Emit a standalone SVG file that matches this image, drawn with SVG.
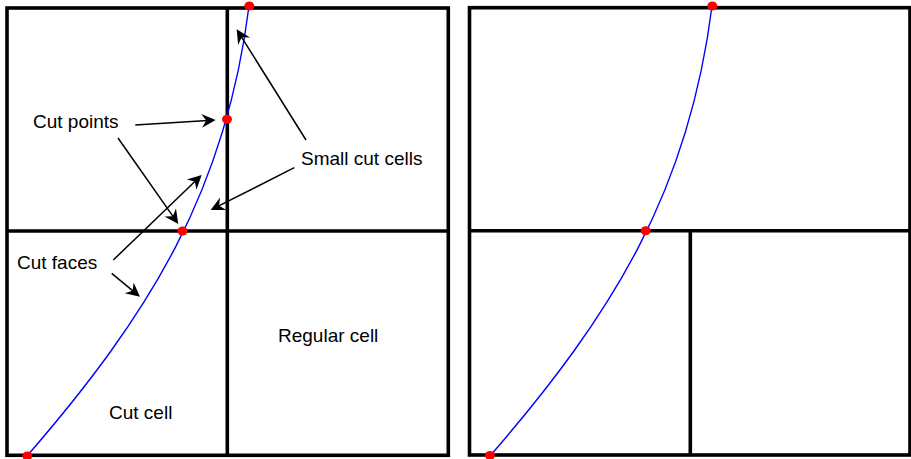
<svg xmlns="http://www.w3.org/2000/svg" width="911" height="459" viewBox="0 0 911 459">
<style>
.grid{fill:none;stroke:#000;stroke-width:3.6}
.curve{fill:none;stroke:#0000ff;stroke-width:1.4}
.dot{fill:#ff0000}
.arrow{fill:none;stroke:#000;stroke-width:1.5;marker-end:url(#head)}
text{font-family:"Liberation Sans",Arial,sans-serif;font-size:19px;fill:#000}
</style>
<defs>
<marker id="head" markerUnits="userSpaceOnUse" markerWidth="24" markerHeight="24" viewBox="-12 -12 24 24" refX="0" refY="0" orient="auto" overflow="visible">
<path d="M8,0 L-6,-7 L-1.5,0 L-6,7 Z" fill="#000"/>
</marker>
<path id="cv" d="M27,456 C151,313 226,190 249,6"/>
</defs>
<rect width="911" height="459" fill="#fff"/>
<g id="left-panel">
<rect class="grid" x="7" y="8" width="441.3" height="447.3"/>
<line class="grid" x1="227.3" y1="8" x2="227.3" y2="455.3"/>
<line class="grid" x1="7" y1="231" x2="448.3" y2="231"/>
<use href="#cv" class="curve"/>
<ellipse class="dot" cx="249.3" cy="6" rx="5" ry="4.5"/>
<ellipse class="dot" cx="227" cy="119.3" rx="5" ry="4.5"/>
<ellipse class="dot" cx="182.5" cy="231" rx="5" ry="4.5"/>
<ellipse class="dot" cx="27.3" cy="456" rx="5" ry="4.5"/>
</g>
<g id="right-panel">
<rect class="grid" x="469.5" y="7.7" width="440.5" height="447.3"/>
<line class="grid" x1="469.5" y1="230.7" x2="910" y2="230.7"/>
<line class="grid" x1="690.3" y1="230.7" x2="690.3" y2="455"/>
<use href="#cv" class="curve" transform="translate(463,0)"/>
<ellipse class="dot" cx="712.3" cy="6" rx="5" ry="4.5"/>
<ellipse class="dot" cx="645.7" cy="230.7" rx="5" ry="4.5"/>
<ellipse class="dot" cx="490" cy="455.5" rx="5" ry="4.5"/>
</g>
<g id="connectors">
<line class="arrow" x1="135.3" y1="125" x2="207.7" y2="120.5"/>
<line class="arrow" x1="118" y1="138" x2="173.7" y2="217.4"/>
<line class="arrow" x1="306" y1="140" x2="240.9" y2="36.1"/>
<line class="arrow" x1="294.3" y1="167.7" x2="217.8" y2="206.4"/>
<line class="arrow" x1="113.3" y1="260" x2="195.9" y2="180.5"/>
<line class="arrow" x1="111.7" y1="273.3" x2="133.8" y2="291.6"/>
</g>
<g id="labels">
<text x="33" y="128">Cut points</text>
<text x="301" y="165">Small cut cells</text>
<text x="17" y="269">Cut faces</text>
<text x="278" y="342">Regular cell</text>
<text x="109" y="419">Cut cell</text>
</g>
</svg>
